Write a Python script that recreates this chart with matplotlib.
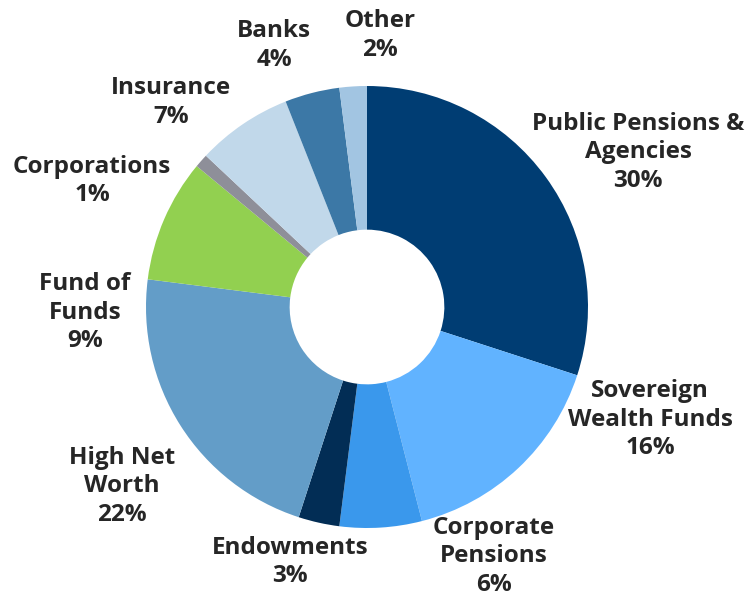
import matplotlib
matplotlib.use('Agg')
import matplotlib.pyplot as plt

# investor type breakdown, clockwise from 12 o'clock
labels = ['Public Pensions &\nAgencies', 'Sovereign\nWealth Funds', 'Corporate\nPensions',
          'Endowments', 'High Net\nWorth', 'Fund of\nFunds', 'Corporations',
          'Insurance', 'Banks', 'Other']
shares = [30, 16, 6, 3, 22, 9, 1, 7, 4, 2]
colors = ['#003D73', '#61B3FF', '#3A98EC', '#022D55', '#639DC8',
          '#92D050', '#8E8F99', '#C1D8EA', '#3C78A6', '#A2C5E2']

# label block centres, in units of the outer radius
label_pos = [(1.226, 0.701), (1.281, -0.511), (0.575, -1.127), (-0.348, -1.154),
             (-1.109, -0.810), (-1.276, -0.027), (-1.244, 0.570), (-0.887, 0.925),
             (-0.421, 1.183), (0.059, 1.229)]

W, H = 753, 594
cx, cy, R = 367, 307, 221

fig = plt.figure(figsize=(W / 100, H / 100), dpi=100)
ax = fig.add_axes([0, 0, 1, 1])
ax.pie(shares, colors=colors, startangle=90, counterclock=False, radius=1,
       wedgeprops=dict(width=0.65, linewidth=0))
ax.set_xlim(-cx / R, (W - cx) / R)
ax.set_ylim(-(H - cy) / R, cy / R)
ax.set_aspect('equal')
ax.axis('off')

for lab, v, (x, y) in zip(labels, shares, label_pos):
    ax.text(x, y, '%s\n%d%%' % (lab, v), ha='center', va='center',
            fontsize=17.5, fontweight='bold', family='Open Sans',
            color='#262626', linespacing=1.25)

fig.savefig('out.png', dpi=100)
